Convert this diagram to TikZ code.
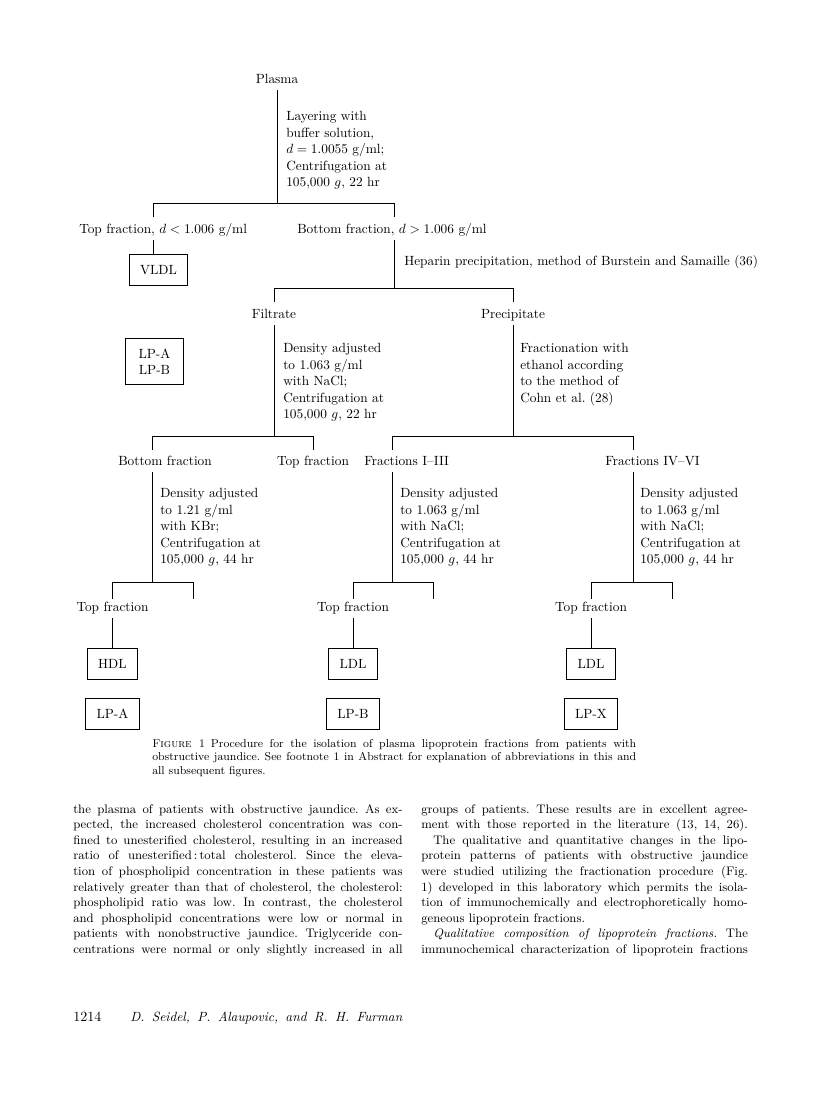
\documentclass[tikz,border=0pt]{standalone}
\usepackage{tikz}
\frenchspacing
\newcommand\bline[1]{\hbox to 247pt{#1}}
\newcommand\rline[1]{\hbox to 245pt{#1}}
\newcommand\capline[1]{\hbox to 363pt{#1}}
\tikzset{
  link/.style={line width=0.65pt},
  lbl/.style={inner xsep=0pt, inner ysep=3pt, text height=7pt, text depth=2pt, font=\fontsize{10}{12.4}\selectfont},
  steptext/.style={anchor=north west, inner sep=0pt, align=left, font=\fontsize{10}{12.4}\selectfont},
  fracbox/.style={draw, line width=0.65pt, inner xsep=8pt, minimum height=23pt, font=\fontsize{10}{12.4}\selectfont},
  bodycol/.style={anchor=north west, inner sep=0pt, align=left, font=\fontsize{9.3}{11.7}\selectfont},
  captext/.style={anchor=north west, inner sep=0pt, align=left, font=\fontsize{8.6}{10.1}\selectfont}
}
\begin{document}
\begin{tikzpicture}[x=0.75pt,y=-0.75pt]
\useasboundingbox (0,0) rectangle (816,1100);
\node[lbl] (plasma) at (277,80) {Plasma};
\node[steptext] (layer) at (286,111) {Layering with\\buffer solution,\\$d = 1.0055$ g/ml;\\Centrifugation at\\105,000 $g$, 22 hr};
\coordinate (s1) at (277,203);
\coordinate (s1l) at (153,203);
\coordinate (s1r) at (394,203);
\node[lbl, anchor=west] (topA) at (79,230) {Top fraction, $d < 1.006$ g/ml};
\node[lbl, anchor=west] (botA) at (297,230) {Bottom fraction, $d > 1.006$ g/ml};
\node[fracbox, minimum width=37pt] (vldl) at (158.5,270) {VLDL};
\node[lbl, anchor=west] (heparin) at (404,262) {Heparin precipitation, method of Burstein and Samaille (36)};
\draw[link] (plasma) -- (s1);
\draw[link] (s1l) -- (s1r);
\draw[link] (s1l) -- ++(0,14);
\draw[link] (s1r) -- ++(0,14);
\draw[link] (topA.south -| s1l) -- (vldl.north -| s1l);
\coordinate (s2) at (394,288);
\coordinate (s2l) at (274,288);
\coordinate (s2r) at (513,288);
\draw[link] (botA.south -| s1r) -- (s2);
\draw[link] (s2l) -- (s2r);
\draw[link] (s2l) -- ++(0,14);
\draw[link] (s2r) -- ++(0,14);
\node[lbl] (filt) at (274,315) {Filtrate};
\node[lbl] (prec) at (513,315) {Precipitate};
\node[fracbox, align=center, minimum width=43pt, minimum height=35pt] (lpab) at (154.5,361.5) {LP-A\\LP-B};
\node[steptext] (dens1) at (283,343) {Density adjusted\\to 1.063 g/ml\\with NaCl;\\Centrifugation at\\105,000 $g$, 22 hr};
\node[steptext] (ethanol) at (520,343) {Fractionation with\\ethanol according\\to the method of\\Cohn et al. (28)};
\coordinate (s3) at (274,436);
\coordinate (s3l) at (152,436);
\coordinate (s3r) at (313,436);
\coordinate (s4) at (513,436);
\coordinate (s4l) at (392,436);
\coordinate (s4r) at (633,436);
\draw[link] (filt) -- (s3);
\draw[link] (prec) -- (s4);
\draw[link] (s3l) -- (s3r);
\draw[link] (s4l) -- (s4r);
\draw[link] (s3l) -- ++(0,14);
\draw[link] (s3r) -- ++(0,14);
\draw[link] (s4l) -- ++(0,14);
\draw[link] (s4r) -- ++(0,14);
\node[lbl, anchor=west] (botB) at (118,462) {Bottom fraction};
\node[lbl] (topB) at (313,462) {Top fraction};
\node[lbl, anchor=west] (frI) at (364,462) {Fractions I--III};
\node[lbl, anchor=west] (frIV) at (605,462) {Fractions IV--VI};
\node[steptext] (dens2) at (160,488) {Density adjusted\\to 1.21 g/ml\\with KBr;\\Centrifugation at\\105,000 $g$, 44 hr};
\node[steptext] (dens3) at (400,488) {Density adjusted\\to 1.063 g/ml\\with NaCl;\\Centrifugation at\\105,000 $g$, 44 hr};
\node[steptext] (dens4) at (640,488) {Density adjusted\\to 1.063 g/ml\\with NaCl;\\Centrifugation at\\105,000 $g$, 44 hr};
\coordinate (s5) at (152,582);
\coordinate (s5l) at (112.5,582);
\coordinate (s5r) at (193,582);
\coordinate (s6) at (392,582);
\coordinate (s6l) at (353,582);
\coordinate (s6r) at (433,582);
\coordinate (s7) at (633,582);
\coordinate (s7l) at (591,582);
\coordinate (s7r) at (672,582);
\draw[link] (botB.south -| s3l) -- (s5);
\draw[link] (frI.south -| s4l) -- (s6);
\draw[link] (frIV.south -| s4r) -- (s7);
\draw[link] (s5l) -- (s5r);
\draw[link] (s6l) -- (s6r);
\draw[link] (s7l) -- (s7r);
\draw[link] (s5l) -- ++(0,17);
\draw[link] (s5r) -- ++(0,17);
\draw[link] (s6l) -- ++(0,17);
\draw[link] (s6r) -- ++(0,17);
\draw[link] (s7l) -- ++(0,17);
\draw[link] (s7r) -- ++(0,17);
\node[lbl] (topC) at (112.5,608) {Top fraction};
\node[lbl] (topD) at (353,608) {Top fraction};
\node[lbl] (topE) at (591,608) {Top fraction};
\node[fracbox] (hdl) at (112.5,664) {HDL};
\node[fracbox] (lpa) at (112.5,714) {LP-A};
\node[fracbox] (ldlB) at (353,664) {LDL};
\node[fracbox] (lpb) at (353,714) {LP-B};
\node[fracbox] (ldlX) at (591,664) {LDL};
\node[fracbox] (lpx) at (591,714) {LP-X};
\draw[link] (topC) -- (hdl);
\draw[link] (topD) -- (ldlB);
\draw[link] (topE) -- (ldlX);
\node[captext] (caption) at (152,739) {\capline{\textsc{Figure 1}\enspace Procedure for the isolation of plasma lipoprotein fractions from patients with}\\
\capline{obstructive jaundice. See footnote 1 in Abstract for explanation of abbreviations in this and}\\
all subsequent figures.};
\node[bodycol] (colL) at (73,804) {\bline{the plasma of patients with obstructive jaundice. As ex-}\\
\bline{pected, the increased cholesterol concentration was con-}\\
\bline{fined to unesterified cholesterol, resulting in an increased}\\
\bline{ratio of unesterified\,:\,total cholesterol. Since the eleva-}\\
\bline{tion of phospholipid concentration in these patients was}\\
\bline{relatively greater than that of cholesterol, the cholesterol:}\\
\bline{phospholipid ratio was low. In contrast, the cholesterol}\\
\bline{and phospholipid concentrations were low or normal in}\\
\bline{patients with nonobstructive jaundice. Triglyceride con-}\\
\bline{centrations were normal or only slightly increased in all}};
\node[bodycol] (colR) at (421,804) {\rline{groups of patients. These results are in excellent agree-}\\
\rline{ment with those reported in the literature (13, 14, 26).}\\
\rline{\hskip 9pt The qualitative and quantitative changes in the lipo-}\\
\rline{protein patterns of patients with obstructive jaundice}\\
\rline{were studied utilizing the fractionation procedure (Fig.}\\
\rline{1) developed in this laboratory which permits the isola-}\\
\rline{tion of immunochemically and electrophoretically homo-}\\
\rline{geneous lipoprotein fractions.\hfil}\\
\rline{\hskip 9pt\textit{Qualitative composition of lipoprotein fractions.} The}\\
\rline{immunochemical characterization of lipoprotein fractions}};
\node[anchor=base west, inner sep=0pt, font=\fontsize{10.5}{12}\selectfont] (pageno) at (73,1021) {1214};
\node[anchor=base west, inner sep=0pt, font=\fontsize{10}{12}\selectfont] (authors) at (130,1021) {\hbox to 204pt{\itshape D. Seidel, P. Alaupovic, and R. H. Furman}};
\end{tikzpicture}
\end{document}
